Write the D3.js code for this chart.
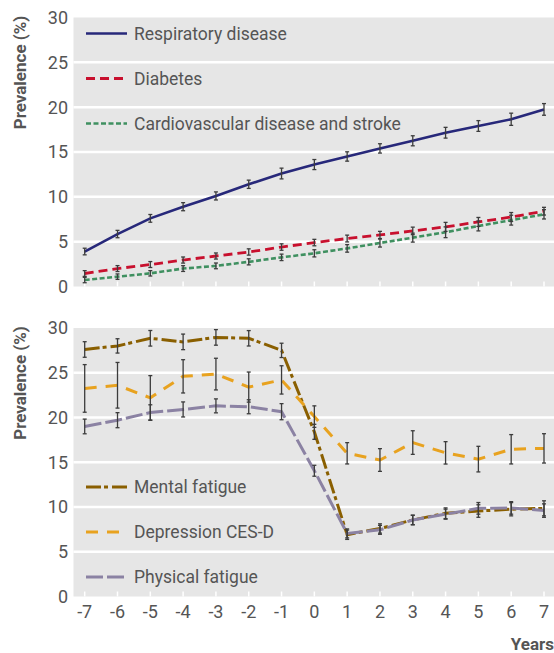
<!DOCTYPE html>
<html lang="en">
<head>
    <meta charset="UTF-8">
    <title>Prevalence by year</title>
    <script src="https://d3js.org/d3.v7.min.js"></script>
    <style>
        body { margin: 0; background: #fff; }
        text { font-family: Roboto, "Noto Sans", sans-serif; }
    </style>
</head>
<body>
    <svg width="554" height="653"></svg>
    <script>
        // years relative to event
        const years = [-7, -6, -5, -4, -3, -2, -1, 0, 1, 2, 3, 4, 5, 6, 7];
        const yTicks = [0, 5, 10, 15, 20, 25, 30];

        // top panel
        const respiratory = [3.9, 5.85, 7.6, 8.9, 10.1, 11.4, 12.6, 13.6, 14.5, 15.4, 16.25, 17.15, 17.9, 18.65, 19.75];
        const respiratoryCI = [0.37, 0.41, 0.43, 0.45, 0.45, 0.46, 0.6, 0.56, 0.52, 0.52, 0.56, 0.6, 0.6, 0.68, 0.65];
        const diabetes = [1.45, 2.0, 2.45, 2.95, 3.4, 3.85, 4.4, 4.9, 5.35, 5.75, 6.2, 6.65, 7.2, 7.75, 8.4];
        const diabetesCI = [0.32, 0.33, 0.33, 0.34, 0.34, 0.35, 0.36, 0.36, 0.38, 0.4, 0.42, 0.5, 0.5, 0.5, 0.43];
        const cvd = [0.72, 1.1, 1.47, 2.0, 2.3, 2.75, 3.25, 3.7, 4.25, 4.85, 5.45, 6.05, 6.75, 7.4, 8.05];
        const cvdCI = [0.3, 0.3, 0.3, 0.32, 0.32, 0.34, 0.36, 0.4, 0.42, 0.45, 0.5, 0.6, 0.55, 0.55, 0.52];

        // bottom panel
        const mental = [27.6, 28.0, 28.85, 28.45, 28.95, 28.85, 27.5, 18.4, 6.9, 7.6, 8.55, 9.3, 9.55, 9.75, 9.85];
        const mentalCI = [0.87, 0.8, 0.87, 0.87, 0.87, 0.86, 0.8, 0.84, 0.52, 0.52, 0.54, 0.6, 0.7, 0.74, 0.84];
        const depression = [23.25, 23.6, 22.2, 24.6, 24.85, 23.4, 24.2, 20.1, 16.0, 15.25, 17.2, 16.05, 15.35, 16.45, 16.55];
        const depressionCI = [2.66, 2.55, 2.48, 1.86, 1.77, 1.68, 1.58, 1.2, 1.19, 1.27, 1.32, 1.25, 1.43, 1.64, 1.64];
        const physical = [19.0, 19.7, 20.55, 20.9, 21.3, 21.2, 20.65, 14.05, 7.05, 7.45, 8.55, 9.2, 9.85, 9.9, 9.6];
        const physicalCI = [0.82, 0.84, 0.87, 0.84, 0.78, 0.78, 0.9, 0.61, 0.5, 0.5, 0.52, 0.56, 0.65, 0.7, 0.75];

        const topSeries = [
            { name: "Respiratory disease", values: respiratory, ci: respiratoryCI, color: "#27287a", dash: null, width: 2.6 },
            { name: "Diabetes", values: diabetes, ci: diabetesCI, color: "#c8102e", dash: "9,5", width: 2.8 },
            { name: "Cardiovascular disease and stroke", values: cvd, ci: cvdCI, color: "#3f9060", dash: "5,2.5", width: 2.6 }
        ];
        const bottomSeries = [
            { name: "Mental fatigue", values: mental, ci: mentalCI, color: "#8a5f00", dash: "15,3,4,4", width: 3 },
            { name: "Depression CES-D", values: depression, ci: depressionCI, color: "#e8a21f", dash: "12,9", width: 3 },
            { name: "Physical fatigue", values: physical, ci: physicalCI, color: "#8b82a3", dash: "17,4", width: 3 }
        ];

        const svg = d3.select("svg");
        const plotLeft = 73.5, plotRight = 554;
        const x = d3.scaleLinear().domain([-7, 7]).range([84.7, 544]);

        function drawPanel(series, top, bottom, legendY) {
            const y = d3.scaleLinear().domain([0, 30]).range([bottom, top]);
            const g = svg.append("g");

            g.append("rect")
                .attr("x", plotLeft).attr("y", top)
                .attr("width", plotRight - plotLeft).attr("height", bottom - top)
                .attr("fill", "#e6e6e6");

            // horizontal grid
            g.selectAll(".grid").data(yTicks.filter(d => d > 0 && d < 30)).enter()
                .append("line")
                .attr("x1", plotLeft).attr("x2", plotRight)
                .attr("y1", d => y(d)).attr("y2", d => y(d))
                .attr("stroke", "#fff").attr("stroke-width", 2.5);

            // small white ticks along the bottom
            g.selectAll(".xt").data(years).enter()
                .append("line")
                .attr("x1", d => x(d)).attr("x2", d => x(d))
                .attr("y1", bottom).attr("y2", bottom - 5)
                .attr("stroke", "#fff").attr("stroke-width", 1.5);

            // y tick labels
            g.selectAll(".yl").data(yTicks).enter()
                .append("text")
                .attr("x", 68).attr("y", d => y(d))
                .attr("dy", "0.36em")
                .attr("text-anchor", "end")
                .attr("font-size", 18)
                .attr("fill", "#555")
                .text(d => d);

            g.append("text")
                .attr("transform", `translate(26,${top + 55}) rotate(-90)`)
                .attr("text-anchor", "middle")
                .attr("font-size", 17)
                .attr("font-weight", "bold")
                .attr("fill", "#555")
                .text("Prevalence (%)");

            const line = d3.line()
                .x((d, i) => x(years[i]))
                .y(d => y(d));

            series.forEach(s => {
                g.append("path")
                    .attr("d", line(s.values))
                    .attr("fill", "none")
                    .attr("stroke", s.color)
                    .attr("stroke-width", s.width)
                    .attr("stroke-dasharray", s.dash);
            });

            // error bars on top
            series.forEach(s => {
                const eb = g.append("g").attr("stroke", "#3c3c3c").attr("stroke-width", 1.3);
                s.values.forEach((v, i) => {
                    const cx = x(years[i]);
                    const y1 = y(v - s.ci[i]), y2 = y(v + s.ci[i]);
                    eb.append("line").attr("x1", cx).attr("x2", cx).attr("y1", y1).attr("y2", y2);
                    eb.append("line").attr("x1", cx - 2).attr("x2", cx + 2).attr("y1", y1).attr("y2", y1);
                    eb.append("line").attr("x1", cx - 2).attr("x2", cx + 2).attr("y1", y2).attr("y2", y2);
                });
            });

            // legend
            series.forEach((s, i) => {
                const ly = legendY + i * 45;
                g.append("line")
                    .attr("x1", 86).attr("x2", 127)
                    .attr("y1", ly).attr("y2", ly)
                    .attr("stroke", s.color)
                    .attr("stroke-width", s.width)
                    .attr("stroke-dasharray", s.dash);
                g.append("text")
                    .attr("x", 134).attr("y", ly)
                    .attr("dy", "0.36em")
                    .attr("font-size", 17.5)
                    .attr("fill", "#555")
                    .text(s.name);
            });

            return g;
        }

        drawPanel(topSeries, 17.5, 286.5, 33.5);
        const bottomG = drawPanel(bottomSeries, 328, 596.5, 487);

        // x tick labels
        bottomG.selectAll(".xl").data(years).enter()
            .append("text")
            .attr("x", d => x(d)).attr("y", 612)
            .attr("dy", "0.36em")
            .attr("text-anchor", "middle")
            .attr("font-size", 18)
            .attr("fill", "#555")
            .text(d => d);

        svg.append("text")
            .attr("x", 554).attr("y", 650)
            .attr("text-anchor", "end")
            .attr("font-size", 17)
            .attr("font-weight", "bold")
            .attr("fill", "#555")
            .text("Years");
    </script>
</body>
</html>
